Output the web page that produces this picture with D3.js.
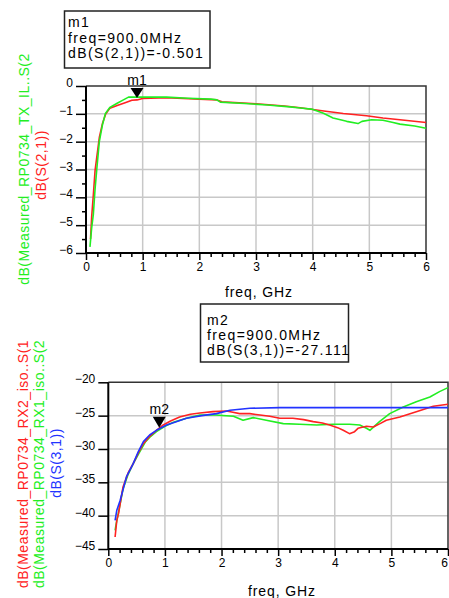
<!DOCTYPE html>
<html>
<head>
<meta charset="utf-8">
<script src="https://cdn.jsdelivr.net/npm/d3@7"></script>
<style>
  html, body { margin: 0; padding: 0; background: #fff; }
  svg { display: block; }
  text { font-family: "Liberation Sans", Arial, sans-serif; }
</style>
</head>
<body>
<script>
// ---------------- DATA ----------------
// Top chart: insertion loss
const topMeasFreq = [0.07,0.10,0.13,0.16,0.19,0.235,0.29,0.34,0.42,0.55,0.66,0.75,1.0,1.42,1.8,2.2,2.31,2.37,2.8,3.2,3.6,3.78,3.98,4.19,4.36,4.6,4.8,4.87,5.04,5.24,5.42,5.54,5.8,6.0];
const topMeasDb   = [-5.78,-5.1,-4.6,-3.7,-3.0,-2.0,-1.4,-1.0,-0.77,-0.62,-0.5,-0.40,-0.40,-0.40,-0.44,-0.47,-0.50,-0.58,-0.63,-0.68,-0.75,-0.79,-0.83,-0.98,-1.15,-1.27,-1.35,-1.27,-1.21,-1.23,-1.31,-1.37,-1.44,-1.52];
const topSimFreq  = [0.08,0.10,0.13,0.16,0.20,0.235,0.29,0.35,0.42,0.55,0.69,0.81,0.90,1.0,1.42,2.0,2.31,2.4,3.0,3.5,3.78,4.13,4.54,4.95,5.24,5.54,6.0];
const topSimDb    = [-5.5,-4.7,-3.9,-3.04,-2.4,-1.85,-1.35,-1.0,-0.80,-0.70,-0.60,-0.51,-0.50,-0.45,-0.42,-0.47,-0.50,-0.57,-0.64,-0.72,-0.78,-0.88,-0.99,-1.07,-1.15,-1.21,-1.31];

// Bottom chart: isolation
const botRx2Freq = [0.12,0.15,0.18,0.26,0.35,0.44,0.53,0.62,0.73,0.85,0.97,1.1,1.26,1.45,1.62,1.85,2.09,2.2,2.32,2.5,2.68,2.85,3.03,3.26,3.45,3.62,3.78,3.91,4.05,4.15,4.26,4.35,4.41,4.56,4.68,4.8,4.91,5.15,5.44,5.74,6.0];
const botRx2Db   = [-43.2,-40.7,-39.7,-35.7,-33.6,-32.2,-30.6,-29.2,-28.1,-27.2,-26.4,-25.8,-25.2,-24.8,-24.6,-24.4,-24.3,-24.5,-24.7,-24.7,-24.9,-25.1,-25.4,-25.4,-25.6,-25.9,-26.1,-26.4,-26.8,-27.2,-27.7,-27.4,-26.9,-26.6,-26.7,-26.2,-25.7,-25.2,-24.4,-23.6,-23.3];
const botRx1Freq = [0.12,0.14,0.18,0.26,0.35,0.44,0.55,0.65,0.75,0.85,1.0,1.15,1.38,1.62,1.9,2.21,2.38,2.56,2.79,3.09,3.38,3.68,3.97,4.26,4.44,4.56,4.62,4.79,4.97,5.21,5.44,5.68,5.85,6.0];
const botRx1Db   = [-42.2,-41.2,-39.5,-36.0,-33.8,-32.2,-30.5,-29.0,-28.1,-27.4,-26.6,-26.0,-25.4,-24.9,-24.9,-25.1,-25.7,-25.3,-25.7,-26.2,-26.3,-26.4,-26.3,-26.3,-26.4,-26.9,-27.2,-25.9,-24.7,-23.7,-22.9,-22.2,-21.4,-20.8];
const botSimFreq = [0.12,0.15,0.21,0.32,0.44,0.53,0.62,0.73,0.85,1.03,1.2,1.38,1.65,1.91,2.15,2.5,3.03,4.0,5.0,6.0];
const botSimDb   = [-40.7,-39.2,-37.7,-34.2,-32.2,-30.4,-28.9,-27.9,-27.2,-26.4,-25.9,-25.4,-25.0,-24.7,-24.2,-23.9,-23.8,-23.8,-23.8,-23.8];

// Ticks
const xTickValues   = [0,1,2,3,4,5,6];
const topYTickValues = [0,-1,-2,-3,-4,-5,-6];
const botYTickValues = [-20,-25,-30,-35,-40,-45];

// Markers
const marker1 = {name: "m1", freq: 0.9, value: -0.501, lines: ["m1", "freq=900.0MHz", "dB(S(2,1))=-0.501"]};
const marker2 = {name: "m2", freq: 0.9, value: -27.111, lines: ["m2", "freq=900.0MHz", "dB(S(3,1))=-27.111"]};

// Axis titles
const xTitle = "freq, GHz";
const topYTitles = ["dB(Measured_RP0734_TX_IL..S(2", "dB(S(2,1))"];
const botYTitles = ["dB(Measured_RP0734_RX2_iso..S(1", "dB(Measured_RP0734_RX1_iso..S(2", "dB(S(3,1))"];

// ---------------- DRAW ----------------
const GREEN = "#22ee22", RED = "#ff2222", BLUE = "#2233ff";
const svg = d3.select("body").append("svg").attr("width", 449).attr("height", 598);
svg.append("rect").attr("width", 449).attr("height", 598).attr("fill", "#fff");

function panel(cfg) {
  const x = d3.scaleLinear().domain([0, 6]).range([cfg.x0, cfg.x1]);
  const y = d3.scaleLinear().domain(cfg.yDomain).range([cfg.y1, cfg.y0]);
  const g = svg.append("g");

  // grid
  g.append("g").selectAll("line").data(xTickValues.slice(1, -1)).join("line")
    .attr("x1", d => x(d)).attr("x2", d => x(d)).attr("y1", cfg.y0).attr("y2", cfg.y1)
    .attr("stroke", "#c8c8c8").attr("stroke-width", 1.5);
  g.append("g").selectAll("line").data(cfg.yTicks.filter(d => d !== cfg.yDomain[0] && d !== cfg.yDomain[1])).join("line")
    .attr("x1", cfg.x0).attr("x2", cfg.x1).attr("y1", d => y(d)).attr("y2", d => y(d))
    .attr("stroke", "#c8c8c8").attr("stroke-width", 1.5);

  // top/right border
  g.append("path").attr("d", `M${cfg.x0},${cfg.y0}H${cfg.x1}V${cfg.y1}`)
    .attr("fill", "none").attr("stroke", "#333").attr("stroke-width", 1.5);

  // series
  const line = d3.line().x(d => x(d[0])).y(d => y(d[1]));
  cfg.series.forEach(s => {
    g.append("path").datum(d3.zip(s.f, s.v)).attr("d", line)
      .attr("fill", "none").attr("stroke", s.color).attr("stroke-width", 1.6)
      .attr("stroke-linejoin", "round");
  });

  // axes
  const ax = g.append("g").attr("transform", `translate(0,${cfg.y1})`)
    .call(d3.axisBottom(x).tickValues(xTickValues).tickSize(7).tickPadding(2).tickFormat(d3.format("d")));
  g.append("g").attr("transform", `translate(0,${cfg.y1})`)
    .call(d3.axisBottom(x).tickValues(d3.range(0, 6.001, 0.2).filter(v => Math.abs(v - Math.round(v)) > 1e-6)).tickSize(4).tickFormat(""))
    .call(a => a.select(".domain").remove());
  const ay = g.append("g").attr("transform", `translate(${cfg.x0},0)`)
    .call(d3.axisLeft(y).tickValues(cfg.yTicks).tickSize(10).tickPadding(3).tickFormat(d3.format("d")));
  if (cfg.yMinor) {
    g.append("g").attr("transform", `translate(${cfg.x0},0)`)
      .call(d3.axisLeft(y).tickValues(cfg.yMinor).tickSize(4).tickFormat(""))
      .call(a => a.select(".domain").remove());
  }
  g.selectAll(".domain").attr("stroke", "#000").attr("stroke-width", 2);
  g.selectAll(".tick line").attr("stroke", "#000").attr("stroke-width", 1.5);
  g.selectAll(".tick text").attr("font-size", 12).attr("fill", "#000")
    .attr("font-family", "'Liberation Sans', Arial, sans-serif");
  ay.selectAll(".tick text").attr("dy", "0.05em");
  if (cfg.lastXLabelEnd) {
    ax.selectAll(".tick text").filter(d => d === 6).attr("text-anchor", "end").attr("dx", "-0.05em");
  }
  // the axis lines span the whole plot
  ay.select(".domain").attr("d", `M0,${cfg.y0}V${cfg.y1}`);
  ax.select(".domain").attr("d", `M${cfg.x0},0H${cfg.x1}`);

  // x title
  g.append("text").attr("x", cfg.xTitleX).attr("y", cfg.xTitleY).attr("text-anchor", "middle")
    .attr("font-size", 14).attr("letter-spacing", 0.9).text(xTitle);

  // y titles
  cfg.yTitles.forEach(t => {
    g.append("text").attr("transform", `translate(${t.bx},${t.cy}) rotate(-90)`)
      .attr("text-anchor", "middle").attr("font-size", 14).attr("letter-spacing", 0.5)
      .attr("fill", t.color).text(t.text);
  });

  // marker
  const m = cfg.marker;
  const mx = x(m.freq), my = y(m.value);
  g.append("path").attr("d", `M${mx - 6.5},${my - cfg.triTop}L${mx + 6.5},${my - cfg.triTop}L${mx},${my - 2}Z`)
    .attr("fill", "#000");
  g.append("text").attr("x", mx).attr("y", my - cfg.triTop - 3).attr("text-anchor", "middle")
    .attr("font-size", 14).text(m.name);

  // marker readout box
  const b = cfg.box;
  g.append("rect").attr("x", b.x).attr("y", b.y).attr("width", b.w).attr("height", b.h)
    .attr("fill", "#fff").attr("stroke", "#222").attr("stroke-width", 1.5);
  m.lines.forEach((l, i) => {
    g.append("text").attr("x", b.tx).attr("y", b.ty + i * b.dy)
      .attr("font-size", 14).attr("letter-spacing", 1.4).text(l);
  });
}

panel({
  x0: 86, x1: 426, y0: 86, y1: 253,
  yDomain: [-6, 0], yTicks: topYTickValues,
  yMinor: [-0.5, -1.5, -2.5, -3.5, -4.5, -5.5],
  series: [
    {f: topSimFreq, v: topSimDb, color: RED},
    {f: topMeasFreq, v: topMeasDb, color: GREEN}
  ],
  xTitleX: 259, xTitleY: 297,
  yTitles: [
    {text: topYTitles[0], color: GREEN, bx: 29, cy: 169},
    {text: topYTitles[1], color: RED, bx: 46, cy: 165}
  ],
  marker: marker1, triTop: 12,
  box: {x: 64.5, y: 11, w: 145.5, h: 57, tx: 68, ty: 27, dy: 15.5}
});

panel({
  x0: 108.3, x1: 448, y0: 382.3, y1: 549,
  yDomain: [-45, -20], yTicks: botYTickValues,
  yMinor: null, lastXLabelEnd: true,
  series: [
    {f: botRx1Freq, v: botRx1Db, color: GREEN},
    {f: botRx2Freq, v: botRx2Db, color: RED},
    {f: botSimFreq, v: botSimDb, color: BLUE}
  ],
  xTitleX: 282, xTitleY: 596,
  yTitles: [
    {text: botYTitles[0], color: RED, bx: 28, cy: 464},
    {text: botYTitles[1], color: GREEN, bx: 44, cy: 464},
    {text: botYTitles[2], color: BLUE, bx: 61, cy: 463}
  ],
  marker: marker2, triTop: 13,
  box: {x: 200.5, y: 304, w: 148, h: 58, tx: 207, ty: 325, dy: 15}
});
</script>
</body>
</html>
